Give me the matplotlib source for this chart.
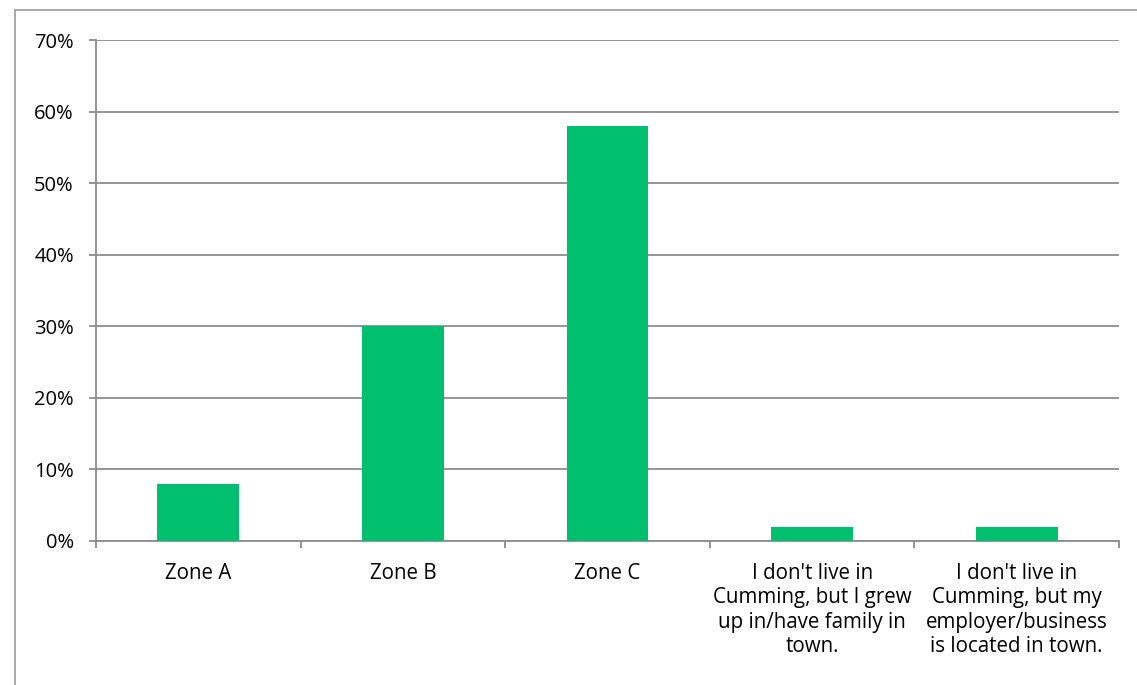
import matplotlib
matplotlib.use("Agg")
import matplotlib.pyplot as plt
from matplotlib.lines import Line2D
from matplotlib.ticker import FixedLocator, PercentFormatter

categories = ["Zone A", "Zone B", "Zone C",
              "I don't live in\nCumming, but I grew\nup in/have family in\ntown.",
              "I don't live in\nCumming, but my\nemployer/business\nis located in town."]
values = [8, 30, 58, 2, 2]
yticks = [0, 10, 20, 30, 40, 50, 60, 70]

W, H = 1137, 685
fig = plt.figure(figsize=(W / 100, H / 100), dpi=100)
plt.rcParams['font.family'] = ['Open Sans', 'DejaVu Sans']

gray = "#8c8c8c"
# outer border (left and top visible)
fig.add_artist(Line2D([15 / W, 15 / W], [0, 1 - 10 / H], transform=fig.transFigure, color="#a0a0a0", lw=1.3))
fig.add_artist(Line2D([15 / W, 1], [1 - 10 / H, 1 - 10 / H], transform=fig.transFigure, color="#a0a0a0", lw=1.3))

left, right, top, bottom = 96, 1119, 40, 541
ax = fig.add_axes([left / W, 1 - bottom / H, (right - left) / W, (bottom - top) / H])

x = list(range(len(categories)))
ax.bar(x, values, width=0.4, color="#00c070", zorder=3)
ax.set_xlim(-0.5, len(categories) - 0.5)
ax.set_ylim(0, 70)
ax.yaxis.set_major_locator(FixedLocator(yticks))
ax.yaxis.set_major_formatter(PercentFormatter(decimals=0))
ax.grid(axis="y", color=gray, lw=1.3, zorder=0)

for s in ["top", "right"]:
    ax.spines[s].set_visible(False)
for s in ["left", "bottom"]:
    ax.spines[s].set_color(gray)
    ax.spines[s].set_linewidth(1.3)

ax.set_xticks([i - 0.5 for i in range(len(categories) + 1)])
ax.set_xticklabels([])
ax.set_xticks(x, minor=True)
ax.set_xticklabels(categories, minor=True, fontsize=14.8, linespacing=1.2)
ax.tick_params(axis="x", which="major", length=5, color=gray, width=1.3, direction="out")
ax.tick_params(axis="x", which="minor", length=0, pad=16)
ax.tick_params(axis="y", length=5, color=gray, width=1.3, labelsize=14.5, pad=11)
for lab in ax.get_xticklabels(minor=True):
    lab.set_verticalalignment("top")
    lab.set_horizontalalignment("center")

fig.savefig("out.png", dpi=100)
